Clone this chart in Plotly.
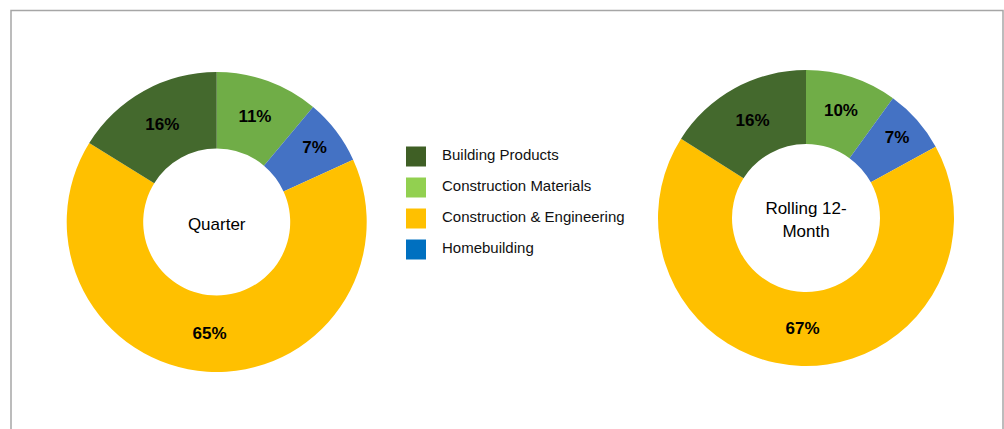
import plotly.graph_objects as go

# Segment shares (%) for the two donuts, ordered clockwise from 12 o'clock
segments = ["Construction Materials", "Homebuilding",
            "Construction & Engineering", "Building Products"]
quarter_pct = [11, 7, 65, 16]
rolling_pct = [10, 7, 67, 16]

# Legend entries (top to bottom)
legend_labels = ["Building Products", "Construction Materials",
                 "Construction & Engineering", "Homebuilding"]

# Styling
slice_colors = {
    "Building Products": "#44692D",
    "Construction Materials": "#70AD47",
    "Construction & Engineering": "#FFC000",
    "Homebuilding": "#4472C4",
}
legend_colors = ["#3F5F25", "#92D050", "#FFC000", "#0070C0"]

W, H = 1004, 429
FONT = "Liberation Sans, Arial, sans-serif"


def px_domain(x0, x1, y_top, y_bot):
    return dict(x=[x0 / W, x1 / W], y=[1 - y_bot / H, 1 - y_top / H])


def donut(values, title, domain, hole):
    return go.Pie(
        labels=segments,
        values=values,
        sort=False,
        direction="clockwise",
        rotation=0,
        hole=hole,
        domain=domain,
        marker=dict(colors=[slice_colors[s] for s in segments],
                    line=dict(width=0)),
        texttemplate="%{value}%",
        textposition="inside",
        insidetextorientation="horizontal",
        textfont=dict(family=FONT, size=17, color="#000000", weight="bold"),
        title=dict(text=title, position="middle center",
                   font=dict(family=FONT, size=17, color="#000000")),
        showlegend=False,
        hoverinfo="label+percent",
    )


fig = go.Figure()
fig.add_trace(donut(quarter_pct, "Quarter",
                    px_domain(66.7, 366.7, 72, 372), 0.49))
fig.add_trace(donut(rolling_pct, "Rolling 12-<br>Month",
                    px_domain(658, 954, 70, 366), 0.5))

# Legend drawn as square markers with labels on a pixel-scaled hidden axis
legend_x = [416] * len(legend_labels)
legend_y = [156.5 + 31 * i for i in range(len(legend_labels))]
fig.add_trace(go.Scatter(
    x=legend_x, y=legend_y,
    mode="markers+text",
    marker=dict(symbol="square", size=20, color=legend_colors,
                line=dict(width=0)),
    text=["   " + t for t in legend_labels],
    textposition="middle right",
    textfont=dict(family=FONT, size=15, color="#111111"),
    hoverinfo="skip",
    showlegend=False,
    cliponaxis=False,
))

fig.update_layout(
    width=W, height=H,
    margin=dict(l=0, r=0, t=0, b=0),
    paper_bgcolor="white",
    plot_bgcolor="rgba(0,0,0,0)",
    xaxis=dict(range=[0, W], domain=[0, 1], visible=False, fixedrange=True),
    yaxis=dict(range=[H, 0], domain=[0, 1], visible=False, fixedrange=True),
    shapes=[dict(type="rect", xref="paper", yref="paper",
                 x0=11 / W, x1=1003 / W, y0=-4 / H, y1=1 - 10.5 / H,
                 line=dict(color="#A6A6A6", width=1.5),
                 fillcolor="rgba(0,0,0,0)", layer="below")],
)

fig.write_html("out.html")
